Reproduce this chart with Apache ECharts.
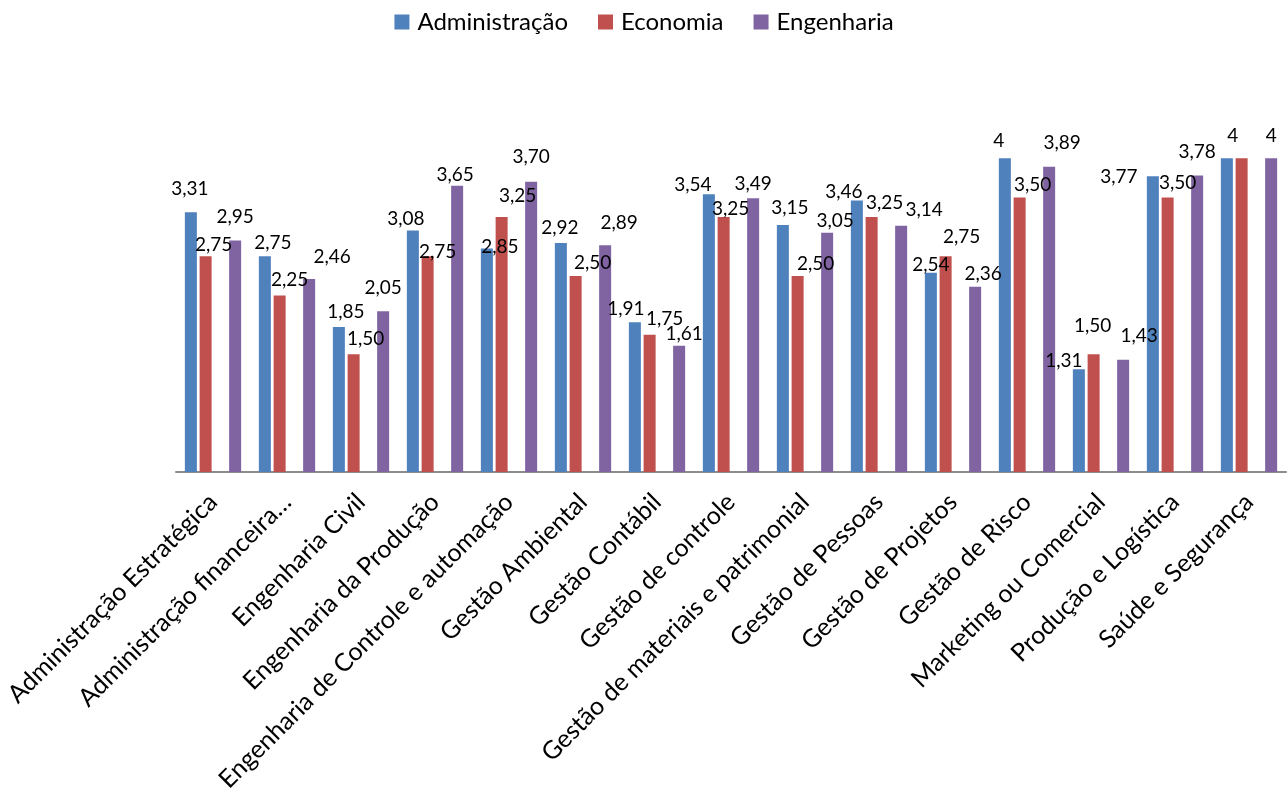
<!DOCTYPE html>
<html>
<head>
<meta charset="utf-8">
<script src="https://cdn.jsdelivr.net/npm/echarts@6/dist/echarts.min.js"></script>
<style>html,body{margin:0;padding:0;background:#fff}#c{width:1288px;height:791px}</style>
</head>
<body>
<div id="c"></div>
<script>
const categories = [
  'Administração Estratégica', 'Administração financeira…', 'Engenharia Civil',
  'Engenharia da Produção', 'Engenharia de Controle e automação', 'Gestão Ambiental',
  'Gestão Contábil', 'Gestão de controle', 'Gestão de materiais e patrimonial',
  'Gestão de Pessoas', 'Gestão de Projetos', 'Gestão de Risco',
  'Marketing ou Comercial', 'Produção e Logística', 'Saúde e Segurança'
];
const administracao = [3.31, 2.75, 1.85, 3.08, 2.85, 2.92, 1.91, 3.54, 3.15, 3.46, 2.54, 4, 1.31, 3.77, 4];
const economia      = [2.75, 2.25, 1.50, 2.75, 3.25, 2.50, 1.75, 3.25, 2.50, 3.25, 2.75, 3.50, 1.50, 3.50, 4];
const engenharia    = [2.95, 2.46, 2.05, 3.65, 3.70, 2.89, 1.61, 3.49, 3.05, 3.14, 2.36, 3.89, 1.43, 3.78, 4];
const seriesNames = ['Administração', 'Economia', 'Engenharia'];

// Data-label nudges (px) as placed in the original chart; null = label not shown
const adminLabelNudge = [[-1,-8],[8,2],[7,0],[-7,4],[13,14],[-1,0],[-9,2],[-16,6],[7,-2],[-13,7],[0,8],[-6,-2],[-15,7],[-34,16],[6,-7]];
const econLabelNudge  = [[8,4],[10,0],[12,0],[10,11],[16,-6],[17,2],[15,0],[7,7],[18,3],[13,1],[16,-4],[13,3],[-1,-13],[10,1],null];
const engLabelNudge   = [[0,-8],[23,-7],[0,-8],[-2,5],[0,-9],[14,-7],[5,4],[0,1],[8,4],[23,0],[8,3],[13,-8],[16,-8],[0,-8],[0,-7]];

const FONT = 'Lato, "Open Sans", sans-serif';
const fmt = p => Number.isInteger(p.value) ? String(p.value) : p.value.toFixed(2).replace('.', ',');
const label = { show: true, position: 'top', distance: 6, formatter: fmt, color: '#000', fontSize: 19, fontFamily: FONT };
const common = { type: 'bar', barWidth: 12, barGap: '23%', label: label };
const withNudge = (vals, nudges) => vals.map((v, i) => nudges[i] === null
  ? { value: v, label: { show: false } }
  : { value: v, label: { offset: nudges[i] } });

const chart = echarts.init(document.getElementById('c'), null, { renderer: 'canvas' });
chart.setOption({
  animation: false,
  backgroundColor: '#fff',
  legend: {
    data: seriesNames,
    top: 5, left: 'center',
    itemWidth: 15, itemHeight: 15, itemGap: 30, icon: 'rect',
    textStyle: { fontSize: 24, fontFamily: FONT, color: '#000', padding: [0, 0, 0, 3] }
  },
  grid: { left: 176, right: 2, top: 119, bottom: 319, containLabel: false, outerBoundsMode: 'none' },
  xAxis: {
    type: 'category', data: categories,
    axisLine: { lineStyle: { color: '#8c8c8c', width: 2 } },
    axisTick: { show: false },
    axisLabel: { rotate: 45, interval: 0, margin: 26, fontSize: 25, fontFamily: FONT, color: '#000' }
  },
  yAxis: {
    type: 'value', min: 0, max: 4.5, interval: 0.5,
    show: false, splitLine: { show: false }
  },
  series: [
    Object.assign({ name: seriesNames[0], data: withNudge(administracao, adminLabelNudge), itemStyle: { color: '#4F81BD' } }, common),
    Object.assign({ name: seriesNames[1], data: withNudge(economia, econLabelNudge), itemStyle: { color: '#C0504D' } }, common),
    Object.assign({ name: '', data: [], itemStyle: { color: 'transparent' } }, common),
    Object.assign({ name: seriesNames[2], data: withNudge(engenharia, engLabelNudge), itemStyle: { color: '#8064A2' } }, common)
  ]
});
</script>
</body>
</html>
